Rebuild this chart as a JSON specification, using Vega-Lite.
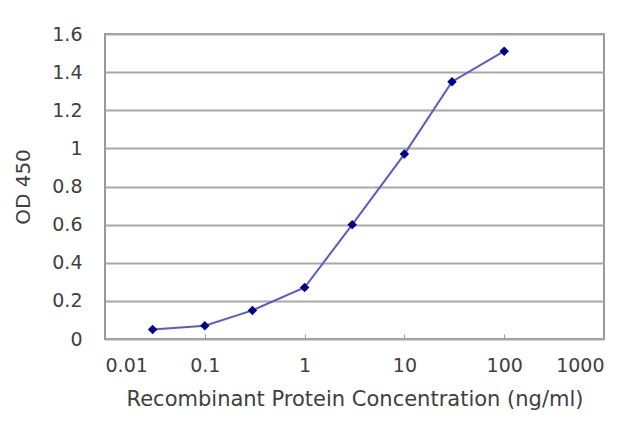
{
  "$schema": "https://vega.github.io/schema/vega-lite/v6.json",
  "description": "OD 450 vs recombinant protein concentration",
  "width": 499,
  "height": 305,
  "autosize": "none",
  "padding": {"left": 105, "top": 34, "right": 36, "bottom": 88},
  "background": "white",
  "data": {
    "values": [
      {"conc": 0.03, "od": 0.05},
      {"conc": 0.1, "od": 0.07},
      {"conc": 0.3, "od": 0.15},
      {"conc": 1, "od": 0.27},
      {"conc": 3, "od": 0.6},
      {"conc": 10, "od": 0.97},
      {"conc": 30, "od": 1.35},
      {"conc": 100, "od": 1.51}
    ]
  },
  "encoding": {
    "x": {
      "field": "conc",
      "type": "quantitative",
      "scale": {"type": "log", "domain": [0.01, 1000], "nice": false},
      "axis": {
        "title": "Recombinant Protein Concentration (ng/ml)",
        "values": [0.01, 0.1, 1, 10, 100, 1000],
        "format": "~g",
        "grid": false,
        "domain": false,
        "tickSize": -5,
        "tickColor": "#999999",
        "labelPadding": 22,
        "titlePadding": 13,
        "titleFontSize": 21
      }
    },
    "y": {
      "field": "od",
      "type": "quantitative",
      "scale": {"domain": [0, 1.6], "nice": false},
      "axis": {
        "title": "OD 450",
        "values": [0, 0.2, 0.4, 0.6, 0.8, 1, 1.2, 1.4, 1.6],
        "format": "~g",
        "ticks": false,
        "domain": false,
        "labelPadding": 23,
        "titlePadding": 18,
        "gridColor": "#a8a8a8",
        "gridWidth": 2
      }
    }
  },
  "layer": [
    {"mark": {"type": "line", "color": "#5a5ac8", "strokeWidth": 2}},
    {"mark": {"type": "point", "shape": "diamond", "filled": true, "size": 90, "color": "#00008b", "opacity": 1}}
  ],
  "config": {
    "view": {"stroke": "#999999", "strokeWidth": 2},
    "axis": {
      "labelFont": "DejaVu Sans",
      "titleFont": "DejaVu Sans",
      "labelFontSize": 19,
      "titleFontSize": 20,
      "titleFontWeight": "normal",
      "labelColor": "#404040",
      "titleColor": "#404040"
    }
  }
}
